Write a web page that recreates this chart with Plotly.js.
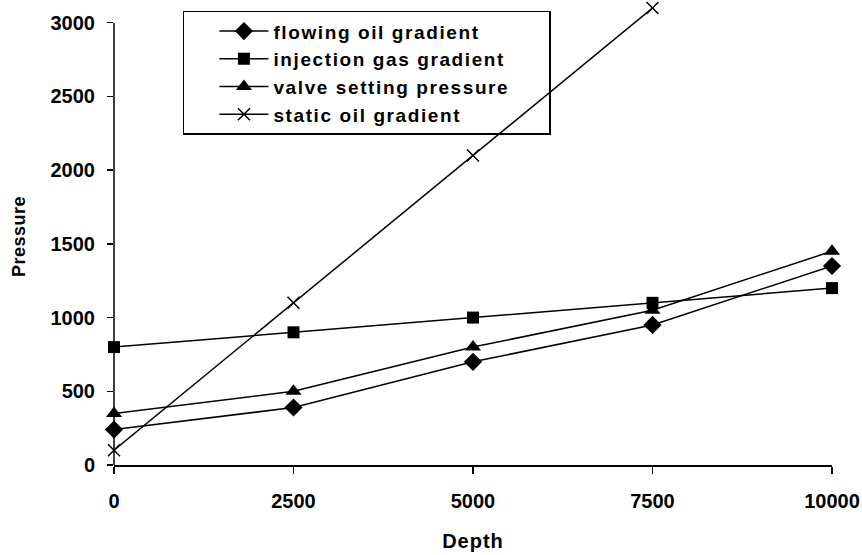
<!DOCTYPE html>
<html><head><meta charset="utf-8">
<script src="https://cdn.plot.ly/plotly-3.0.1.min.js"></script>
<style>body{margin:0;background:#fff}#chart{width:862px;height:555px}
.legendtext{letter-spacing:1.6px}
.xtitle{letter-spacing:1px}
.ytitle{letter-spacing:0.5px}
</style>
</head><body><div id="chart"></div>
<script>
const depth = [0, 2500, 5000, 7500, 10000];
const flowingOil = [240, 390, 700, 950, 1350];
const injectionGas = [800, 900, 1000, 1100, 1200];
const valveSetting = [350, 500, 800, 1050, 1450];
const staticOil = [100, 1100, 2100, 3100, 4100];
const names = ['flowing oil gradient', 'injection gas gradient', 'valve setting pressure', 'static oil gradient'];
const xTicks = [0, 2500, 5000, 7500, 10000];
const yTicks = [0, 500, 1000, 1500, 2000, 2500, 3000];

const F = 'Liberation Sans, Arial, sans-serif';
const b = s => '<b>' + s + '</b>';
const pad = '&nbsp;&nbsp;&nbsp;&nbsp;&nbsp;';
function tr(y, name, sym, size, lw) {
  return {x: depth, y: y, name: b(name) + pad, type: 'scatter', mode: 'lines+markers', cliponaxis: false,
    line: {color: '#000', width: 1.5},
    marker: {symbol: sym, size: size, color: '#000', line: {color: '#000', width: lw}}};
}
const data = [
  tr(flowingOil, names[0], 'diamond', 14, 0),
  tr(injectionGas, names[1], 'square', 12, 0),
  tr(valveSetting, names[2], 'triangle-up', 14, 0),
  tr(staticOil, names[3], 'x-thin-open', 12, 1.5)
];
const layout = {
  width: 862, height: 555,
  margin: {l: 114, r: 30, t: 8, b: 90},
  paper_bgcolor: '#fff', plot_bgcolor: '#fff',
  font: {family: F, color: '#000'},
  showlegend: true,
  legend: {x: 0.096, y: 0.994, xanchor: 'left', yanchor: 'top', bgcolor: 'rgba(0,0,0,0)',
    bordercolor: '#000', borderwidth: 1.5, font: {family: F, size: 19, color: '#000'},
    tracegroupgap: 0, itemwidth: 49, indentation: 30},
  xaxis: {range: [0, 10000], tickvals: xTicks, ticktext: xTicks.map(v => b(v)),
    showgrid: false, zeroline: false, showline: true, linecolor: '#000', linewidth: 1.5,
    ticks: 'outside', ticklen: 7, tickwidth: 1.5, tickcolor: '#000', ticklabelstandoff: 10,
    tickfont: {family: F, size: 20, color: '#000'},
    title: {text: b('Depth'), font: {family: F, size: 20, color: '#000'}, standoff: 23}},
  yaxis: {range: [0, 3100], tickvals: yTicks, ticktext: yTicks.map(v => b(v)),
    showgrid: false, zeroline: false, showline: false,
    ticks: 'outside', ticklen: 6, tickwidth: 1.5, tickcolor: '#000', ticklabelstandoff: 8,
    tickfont: {family: F, size: 20, color: '#000'},
    title: {text: b('Pressure'), font: {family: F, size: 18, color: '#000'}, standoff: 20}},
  shapes: [{type: 'line', xref: 'paper', yref: 'y', x0: 0, x1: 0, y0: 0, y1: 3000,
    line: {color: '#000', width: 1.5}}]
};
Plotly.newPlot('chart', data, layout, {displayModeBar: false, staticPlot: true});
</script></body></html>
